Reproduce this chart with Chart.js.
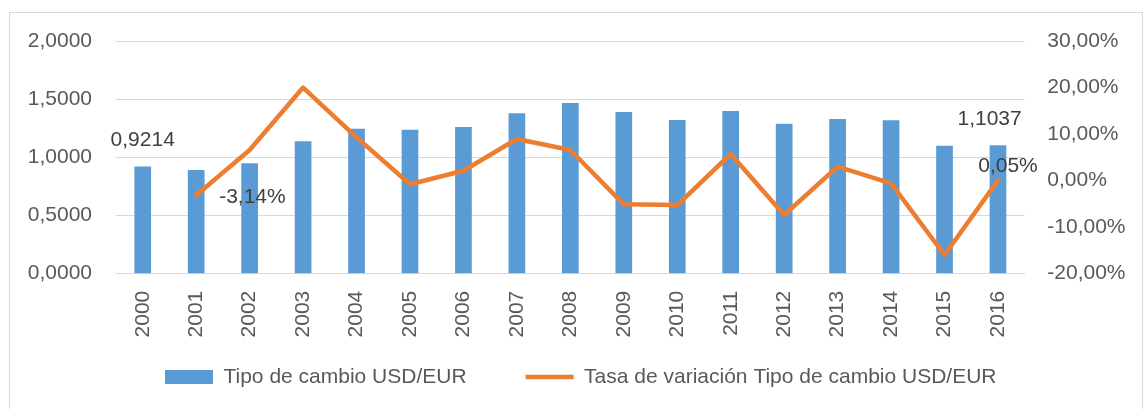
<!DOCTYPE html>
<html lang="es">
<head>
<meta charset="utf-8">
<title>Tipo de cambio USD/EUR</title>
<script src="https://cdn.jsdelivr.net/npm/chart.js@4/dist/chart.umd.min.js"></script>
<style>
  html, body { margin: 0; padding: 0; background: #fff; overflow: hidden; }
  #wrap { position: relative; width: 1144px; height: 409px; }
  #marco { position: absolute; left: 9px; top: 12px; width: 1134px; height: 420px; border: 1px solid #d9d9d9; box-sizing: border-box; }
  canvas { position: absolute; left: 0; top: 0; }
</style>
</head>
<body>
<div id="wrap">
  <div id="marco"></div>
  <canvas id="grafico" width="1144" height="409"></canvas>
</div>
<script>
// Datos
const anios = ['2000', '2001', '2002', '2003', '2004', '2005', '2006', '2007', '2008',
               '2009', '2010', '2011', '2012', '2013', '2014', '2015', '2016'];

// Tipo de cambio USD/EUR (eje izquierdo)
const tipoCambio = [0.9214, 0.8913, 0.9489, 1.1380, 1.2462, 1.2376, 1.2609, 1.3786, 1.4671,
                    1.3898, 1.3210, 1.3984, 1.2892, 1.3296, 1.3184, 1.1001, 1.1037];

// Tasa de variación en % (eje derecho)
const tasaVariacion = [null, -3.14, 6.58, 20.0, 9.3, -0.79, 2.13, 8.94, 6.58,
                       -5.09, -5.24, 5.72, -7.39, 2.99, -0.58, -15.98, 0.05];

const nombreBarras = 'Tipo de cambio USD/EUR';
const nombreLinea = 'Tasa de variación Tipo de cambio USD/EUR';

const FUENTE = "'Liberation Sans', Arial, sans-serif";

const fmtTipo = v => v.toFixed(4).replace('.', ',');
const fmtPct = v => v.toFixed(2).replace('.', ',') + '%';

// Etiquetas de datos sueltas (primera y última barra, dos puntos de la línea)
const etiquetasDatos = {
    id: 'etiquetasDatos',
    afterDatasetsDraw(chart) {
        const ctx = chart.ctx;
        const barras = chart.getDatasetMeta(0).data;
        const puntos = chart.getDatasetMeta(1).data;
        const n = anios.length - 1;

        ctx.save();
        ctx.font = '21px ' + FUENTE;
        ctx.fillStyle = '#404040';
        ctx.textBaseline = 'middle';

        ctx.textAlign = 'center';
        ctx.fillText(fmtTipo(tipoCambio[0]), barras[0].x, barras[0].y - 26);

        ctx.textAlign = 'right';
        ctx.fillText(fmtTipo(tipoCambio[n]), chart.chartArea.right - 3, barras[n].y - 26);

        ctx.textAlign = 'left';
        ctx.fillText(fmtPct(tasaVariacion[1]), puntos[1].x + 23, puntos[1].y + 2);

        ctx.textAlign = 'center';
        ctx.fillText(fmtPct(tasaVariacion[n]), puntos[n].x + 10, puntos[n].y - 14);
        ctx.restore();
    }
};

Chart.defaults.font.family = FUENTE;
Chart.defaults.font.size = 21;
Chart.defaults.color = '#595959';

new Chart(document.getElementById('grafico'), {
    type: 'bar',
    data: {
        labels: anios,
        datasets: [
            {
                type: 'bar',
                label: nombreBarras,
                data: tipoCambio,
                backgroundColor: '#5b9bd5',
                borderWidth: 0,
                pointStyle: 'rect',
                categoryPercentage: 1,
                barPercentage: 0.3125,
                yAxisID: 'y',
                order: 1
            },
            {
                type: 'line',
                label: nombreLinea,
                data: tasaVariacion,
                borderColor: '#ed7d31',
                backgroundColor: '#ed7d31',
                borderWidth: 4.5,
                borderCapStyle: 'round',
                borderJoinStyle: 'round',
                pointRadius: 0,
                pointHoverRadius: 0,
                pointStyle: 'line',
                tension: 0,
                spanGaps: false,
                yAxisID: 'y1',
                order: 0
            }
        ]
    },
    options: {
        responsive: false,
        animation: false,
        layout: {
            padding: { top: 41, left: 17.5, right: 0, bottom: 11.5 }
        },
        scales: {
            x: {
                grid: { display: false },
                border: { display: true, color: '#d9d9d9', width: 1 },
                ticks: {
                    minRotation: 90,
                    maxRotation: 90,
                    padding: 9,
                    autoSkip: false
                },
                afterFit(scale) { scale.height = 75.8; }
            },
            y: {
                position: 'left',
                min: 0,
                max: 2,
                grid: { color: '#d9d9d9', lineWidth: 1, drawTicks: false },
                border: { display: false },
                ticks: {
                    stepSize: 0.5,
                    padding: 24,
                    callback: v => fmtTipo(v)
                },
                afterFit(scale) { scale.width = 98.5; }
            },
            y1: {
                position: 'right',
                min: -20,
                max: 30,
                grid: { display: false, drawTicks: false },
                border: { display: false },
                ticks: {
                    stepSize: 10,
                    padding: 22.6,
                    callback: v => fmtPct(v)
                },
                afterFit(scale) { scale.width = 119.3; }
            }
        },
        plugins: {
            legend: {
                position: 'bottom',
                labels: {
                    usePointStyle: true,
                    pointStyleWidth: 48,
                    boxHeight: 14,
                    padding: 17,
                    color: '#595959',
                    font: { size: 21 },
                    // separación extra tras la primera entrada, como en el original
                    generateLabels(chart) {
                        const items = Chart.defaults.plugins.legend.labels.generateLabels(chart);
                        items.forEach(it => { if (it.datasetIndex === 0) it.text += '\u2003\u2003'; });
                        return items;
                    },
                    sort: (a, b) => a.datasetIndex - b.datasetIndex
                }
            },
            tooltip: { enabled: false }
        }
    },
    plugins: [etiquetasDatos]
});
</script>
</body>
</html>
